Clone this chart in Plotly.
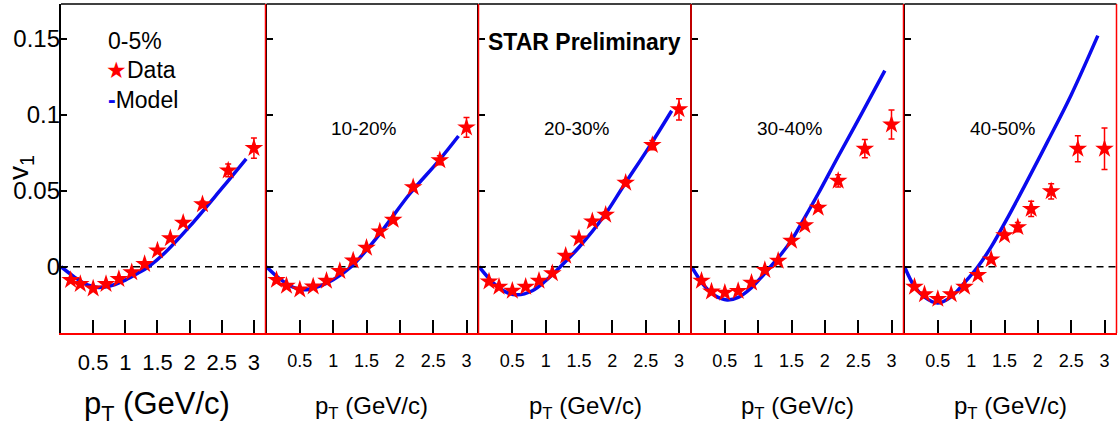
import plotly.graph_objects as go

# ---------------- data ----------------
pt = [0.15, 0.3, 0.5, 0.7, 0.9, 1.1, 1.3, 1.5, 1.7, 1.9, 2.2, 2.6, 3.0]

v1_0_5 = [-0.0088, -0.0114, -0.0143, -0.0114, -0.0081, -0.0037, 0.0018, 0.0106, 0.0187, 0.0289, 0.0411, 0.0633, 0.078]
err_0_5 = [0.001, 0.001, 0.001, 0.001, 0.001, 0.001, 0.001, 0.001, 0.0012, 0.0015, 0.002, 0.0042, 0.0067]

v1_10_20 = [-0.0087, -0.0126, -0.015, -0.013, -0.0093, -0.0028, 0.0041, 0.0124, 0.0232, 0.0308, 0.0523, 0.070, 0.0916]
err_10_20 = [0.001, 0.001, 0.001, 0.001, 0.001, 0.001, 0.001, 0.001, 0.0012, 0.0015, 0.002, 0.003, 0.0065]

v1_20_30 = [-0.0098, -0.0132, -0.0158, -0.0132, -0.0093, -0.0043, 0.0072, 0.0185, 0.0298, 0.0341, 0.0552, 0.080, 0.1035]
err_20_30 = [0.001, 0.001, 0.001, 0.001, 0.001, 0.001, 0.001, 0.001, 0.0015, 0.002, 0.002, 0.003, 0.007]

v1_30_40 = [-0.0092, -0.0164, -0.0171, -0.016, -0.0105, -0.0022, 0.0039, 0.017, 0.0272, 0.0387, 0.0565, 0.0776, 0.0935]
err_30_40 = [0.001, 0.001, 0.001, 0.001, 0.001, 0.001, 0.001, 0.0015, 0.002, 0.002, 0.004, 0.006, 0.0095]

v1_40_50 = [-0.0132, -0.0182, -0.0212, -0.0182, -0.0132, -0.0055, 0.0048, 0.0207, 0.026, 0.038, 0.0496, 0.0776, 0.0776]
err_40_50 = [0.001, 0.001, 0.001, 0.001, 0.001, 0.001, 0.0015, 0.002, 0.003, 0.005, 0.005, 0.0085, 0.0136]

m_pt_0_5 = [0, 0.2, 0.4, 0.58, 0.8, 1.0, 1.2, 1.36, 1.6, 2.0, 2.5, 2.88]
m_0_5 = [0, -0.0065, -0.0118, -0.0136, -0.0122, -0.0088, -0.0042, 0, 0.0085, 0.0265, 0.0515, 0.071]

m_pt_10_20 = [0, 0.2, 0.4, 0.56, 0.8, 1.0, 1.27, 1.66, 2.15, 2.57, 2.88]
m_10_20 = [0, -0.008, -0.0135, -0.0152, -0.0127, -0.0085, 0, 0.0195, 0.048, 0.069, 0.086]

m_pt_20_30 = [0, 0.2, 0.4, 0.575, 0.8, 1.0, 1.22, 1.5, 1.87, 2.17, 2.57, 2.89]
m_20_30 = [0, -0.010, -0.0165, -0.0185, -0.0158, -0.0092, 0, 0.0128, 0.033, 0.0533, 0.080, 0.1026]

m_pt_30_40 = [0, 0.2, 0.35, 0.535, 0.7, 0.9, 1.05, 1.185, 1.35, 1.5, 1.7, 1.9, 2.2, 2.55, 2.9]
m_30_40 = [0, -0.013, -0.019, -0.0219, -0.0202, -0.0138, -0.0068, 0, 0.0085, 0.0175, 0.0325, 0.048, 0.0725, 0.1005, 0.129]

m_pt_40_50 = [0, 0.15, 0.3, 0.495, 0.7, 0.9, 1.1, 1.3, 1.5, 1.8, 2.15, 2.5, 2.9]
m_40_50 = [0, -0.013, -0.020, -0.0239, -0.0198, -0.0105, 0, 0.013, 0.0285, 0.053, 0.0826, 0.113, 0.152]

centralities = ["0-5%", "10-20%", "20-30%", "30-40%", "40-50%"]
x_tickvals = [0.5, 1, 1.5, 2, 2.5, 3]
x_ticktext = ["0.5", "1", "1.5", "2", "2.5", "3"]
y_tickvals = [0, 0.05, 0.1, 0.15]
y_ticktext = ["0", "0.05", "0.1", "0.15"]

data_sets = [v1_0_5, v1_10_20, v1_20_30, v1_30_40, v1_40_50]
err_sets = [err_0_5, err_10_20, err_20_30, err_30_40, err_40_50]
model_x = [m_pt_0_5, m_pt_10_20, m_pt_20_30, m_pt_30_40, m_pt_40_50]
model_y = [m_0_5, m_10_20, m_20_30, m_30_40, m_40_50]

# ---------------- layout geometry ----------------
W, H = 1118, 430
panel_px = [(61, 265.5), (266.5, 478.5), (479, 691), (691.5, 903.5), (904.5, 1116.5)]
y_top_px, y_bot_px = 4, 333
X_RANGE = [0, 3.18]
Y_RANGE = [-0.0436, 0.1728]
FONT = "Liberation Sans, Arial, Helvetica, sans-serif"
BLUE = "#0a0aee"
RED = "#ff0000"

fig = go.Figure()
layout = dict(
    width=W, height=H, margin=dict(l=0, r=0, t=0, b=0),
    plot_bgcolor="white", paper_bgcolor="white", showlegend=False,
    font=dict(family=FONT, color="black"),
)
shapes = []
annotations = []

for i in range(5):
    n = "" if i == 0 else str(i + 1)
    xa, ya = "x" + n, "y" + n
    fig.add_trace(go.Scatter(
        x=model_x[i], y=model_y[i], mode="lines", line=dict(color=BLUE, width=3.5, shape="spline", smoothing=1.0),
        xaxis=xa, yaxis=ya, hoverinfo="skip"))
    fig.add_trace(go.Scatter(
        x=pt, y=data_sets[i], mode="markers",
        marker=dict(symbol="star", size=14, color=RED, line=dict(width=0)),
        error_y=dict(type="data", array=err_sets[i], visible=True, color=RED, thickness=1.5, width=3),
        xaxis=xa, yaxis=ya))
    x0, x1 = panel_px[i]
    first = i == 0
    layout["xaxis" + n] = dict(
        domain=[x0 / W, x1 / W], range=X_RANGE, anchor=ya,
        showgrid=False, zeroline=False, showline=True, linecolor=RED, linewidth=1.5,
        ticks="inside", ticklen=13, tickwidth=1.5, tickcolor="black",
        tickvals=x_tickvals, ticktext=x_ticktext,
        tickfont=dict(size=22 if first else 18, family=FONT, color="black"),
        ticklabelstandoff=9 if first else 11,
    )
    layout["yaxis" + n] = dict(
        domain=[1 - y_bot_px / H, 1 - y_top_px / H], range=Y_RANGE, anchor=xa,
        showgrid=False, zeroline=False, showline=True, linecolor="black", linewidth=2,
        ticks="inside", ticklen=6, tickwidth=1.5, tickcolor="black",
        tickvals=y_tickvals, showticklabels=False,
    )
    # top (black) and right (red) frame
    shapes.append(dict(type="line", xref=xa + " domain", yref=ya + " domain", x0=0, x1=1, y0=1, y1=1,
                       line=dict(color="black", width=1.5), layer="above"))
    shapes.append(dict(type="line", xref=xa + " domain", yref=ya + " domain", x0=1, x1=1, y0=0, y1=1,
                       line=dict(color=RED, width=1.5), layer="above"))
    # zero reference line
    shapes.append(dict(type="line", xref=xa + " domain", yref=ya, x0=0, x1=1, y0=0, y1=0,
                       line=dict(color="black", width=1.5, dash="7px,5px"), layer="below"))

# label-only y axis for the first panel (sits a little closer to the frame)
fig.add_trace(go.Scatter(x=pt, y=v1_0_5, mode="markers", marker=dict(opacity=0),
                         xaxis="x", yaxis="y6", hoverinfo="skip"))
layout["yaxis6"] = dict(
    overlaying="y", anchor="free", position=60 / W, side="left",
    range=Y_RANGE,
    showgrid=False, zeroline=False, showline=False, ticks="",
    tickvals=y_tickvals, ticktext=y_ticktext, showticklabels=True,
    tickfont=dict(size=24, family=FONT, color="black"),
)

# axis titles
title_px = [(157, 406, 31), (371, 407, 24), (585, 407, 24), (797, 407, 24), (1010, 407, 24)]
for cx, cy, fs in title_px:
    annotations.append(dict(text="p<sub>T</sub> (GeV/c)", x=cx / W, y=1 - cy / H, xref="paper", yref="paper",
                            showarrow=False, xanchor="center", yanchor="middle",
                            font=dict(size=fs, family=FONT, color="black")))

# v1 label
annotations.append(dict(text="v<sub>1</sub>", x=21 / W, y=1 - 168 / H, xref="paper", yref="paper",
                        showarrow=False, textangle=-90, xanchor="center", yanchor="middle",
                        font=dict(size=28, family=FONT, color="black")))

# centrality labels
cent_px = [(364, 128), (577, 128), (790, 128), (1003, 128)]
for (cx, cy), lab in zip(cent_px, centralities[1:]):
    annotations.append(dict(text=lab, x=cx / W, y=1 - cy / H, xref="paper", yref="paper",
                            showarrow=False, xanchor="center", yanchor="middle",
                            font=dict(size=19, family=FONT, color="black")))

# legend-like block in panel 1
annotations.append(dict(text=centralities[0], x=106 / W, y=1 - 41 / H, xref="paper", yref="paper",
                        showarrow=False, xanchor="left", yanchor="middle",
                        font=dict(size=23, family=FONT, color="black")))
annotations.append(dict(text="<span style='color:#ff0000'>★</span>Data", x=104 / W, y=1 - 70 / H,
                        xref="paper", yref="paper", showarrow=False, xanchor="left", yanchor="middle",
                        font=dict(size=23, family=FONT, color="black")))
annotations.append(dict(text="<span style='color:#0a0aee'><b>-</b></span>Model", x=106 / W, y=1 - 100 / H,
                        xref="paper", yref="paper", showarrow=False, xanchor="left", yanchor="middle",
                        font=dict(size=23, family=FONT, color="black")))

# STAR Preliminary
annotations.append(dict(text="<b>STAR Preliminary</b>", x=584 / W, y=1 - 42 / H, xref="paper", yref="paper",
                        showarrow=False, xanchor="center", yanchor="middle",
                        font=dict(size=23, family=FONT, color="black")))

layout["shapes"] = shapes
layout["annotations"] = annotations
fig.update_layout(**layout)
fig.write_html(
    "out.html",
    config={"displayModeBar": False},
    post_script="document.body.style.margin='0';document.body.style.overflow='hidden';",
)
